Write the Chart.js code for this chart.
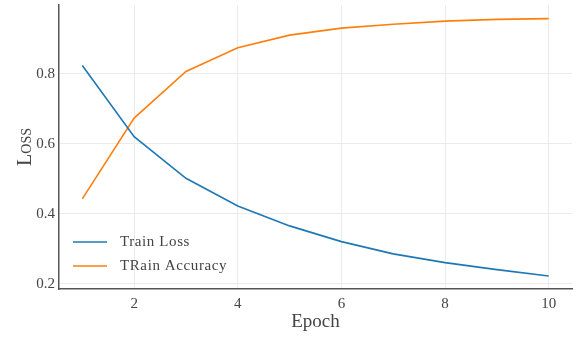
<!DOCTYPE html>
<html>
<head>
<meta charset="utf-8">
<script src="https://cdn.jsdelivr.net/npm/chart.js@4"></script>
<style>
  html, body { margin: 0; padding: 0; background: #fff; }
  #wrap { width: 581px; height: 337px; }
</style>
</head>
<body>
<div id="wrap"><canvas id="myChart" width="581" height="337"></canvas></div>
<script>
const epochs = [1, 2, 3, 4, 5, 6, 7, 8, 9, 10];
const trainLoss = [0.824, 0.621, 0.502, 0.423, 0.366, 0.321, 0.286, 0.261, 0.241, 0.223];
const trainAcc = [0.443, 0.674, 0.807, 0.875, 0.911, 0.931, 0.942, 0.951, 0.956, 0.958];
const xTicks = [2, 4, 6, 8, 10];
const yTicks = [0.2, 0.4, 0.6, 0.8];

const serif = "'Liberation Serif', 'DejaVu Serif', serif";
const textColor = "#444";

// legend drawn inside the plot, lower left
const innerLegend = {
  id: "innerLegend",
  afterDraw(chart) {
    const ctx = chart.ctx;
    const area = chart.chartArea;
    ctx.save();
    ctx.font = "15px " + serif;
    ctx.letterSpacing = "0.6px";
    ctx.textBaseline = "middle";
    chart.data.datasets.forEach(function (ds, i) {
      const y = area.bottom - 47 + i * 24;
      ctx.strokeStyle = ds.borderColor;
      ctx.lineWidth = 1.6;
      ctx.beginPath();
      ctx.moveTo(area.left + 14, y);
      ctx.lineTo(area.left + 48, y);
      ctx.stroke();
      ctx.fillStyle = textColor;
      ctx.fillText(ds.label, area.left + 61, y);
    });
    ctx.restore();
  },
};

const ctx = document.getElementById("myChart").getContext("2d");
const myChart = new Chart(ctx, {
  type: "line",
  data: {
    labels: epochs,
    datasets: [
      {
        label: "Train Loss",
        data: epochs.map((e, i) => ({ x: e, y: trainLoss[i] })),
        borderColor: "#1f77b4",
        borderWidth: 1.6,
        pointRadius: 0,
        tension: 0,
      },
      {
        label: "TRain Accuracy",
        data: epochs.map((e, i) => ({ x: e, y: trainAcc[i] })),
        borderColor: "#ff7f0e",
        borderWidth: 1.6,
        pointRadius: 0,
        tension: 0,
      },
    ],
  },
  options: {
    responsive: false,
    animation: false,
    layout: { padding: { top: 5, right: 9, bottom: 0, left: 0 } },
    scales: {
      x: {
        type: "linear",
        min: 0.55,
        max: 10.45,
        afterBuildTicks: (scale) => { scale.ticks = xTicks.map((v) => ({ value: v })); },
        afterFit: (scale) => { scale.height = 48; scale.paddingRight = 0; scale.paddingLeft = 0; },
        border: { color: "#555", width: 1.5 },
        grid: { color: "#ebebeb", drawTicks: false },
        ticks: { color: textColor, font: { family: serif, size: 15 }, padding: 6 },
        title: {
          display: true,
          text: "Epoch",
          color: textColor,
          font: { family: serif, size: 19 },
          padding: { top: 0, bottom: 4 },
        },
      },
      y: {
        min: 0.1857,
        max: 0.997,
        afterBuildTicks: (scale) => { scale.ticks = yTicks.map((v) => ({ value: v })); },
        afterFit: (scale) => { scale.width = 59; scale.paddingTop = 0; scale.paddingBottom = 0; },
        border: { color: "#555", width: 1.5 },
        grid: { color: "#ebebeb", drawTicks: false },
        ticks: {
          color: textColor,
          font: { family: serif, size: 15 },
          padding: 4,
          callback: (v) => v.toFixed(1),
        },
        title: {
          display: true,
          text: "Loss",
          color: textColor,
          font: { family: serif, size: 20, weight: "small-caps" },
          padding: { top: 14, bottom: 0 },
        },
      },
    },
    plugins: {
      legend: { display: false },
      tooltip: { enabled: false },
    },
  },
  plugins: [innerLegend],
});
</script>
</body>
</html>
